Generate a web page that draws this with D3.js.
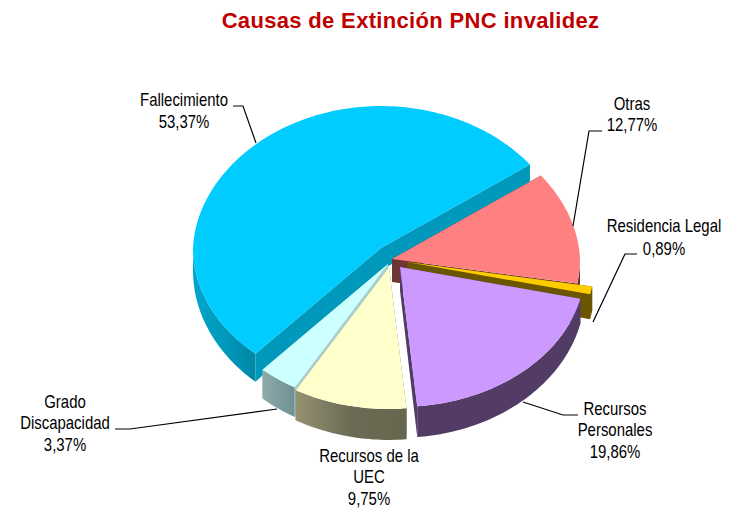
<!DOCTYPE html>
<html>

<head>
	<meta charset="utf-8">
	<script src="https://cdn.jsdelivr.net/npm/d3@7"></script>
	<style>
		html, body { margin: 0; padding: 0; background: #fff; }
		svg { display: block; }
		text { font-family: "Liberation Sans", Arial, sans-serif; }
		.label { font-size: 18px; fill: #000; text-anchor: middle; }
		.title { font-size: 22px; font-weight: bold; fill: #c00000; text-anchor: middle; letter-spacing: 0.33px; }
		.leader { fill: none; stroke: #000; stroke-width: 1.2; }
	</style>
</head>

<body>
	<svg></svg>
	<script>
		// Values, clockwise from the Fallecimiento/Otras cut
		var categories = ["Otras", "Residencia Legal", "Recursos Personales", "Recursos de la UEC", "Grado Discapacidad", "Fallecimiento"];
		var values = [12.77, 0.89, 19.86, 9.75, 3.37, 53.37];
		var valueLabels = ["12,77%", "0,89%", "19,86%", "9,75%", "3,37%", "53,37%"];
		var titleText = "Causas de Extinción PNC invalidez";

		// Style and layout, same order as categories
		var topColors = ["#ff8080", "#ffcc00", "#cc99ff", "#ffffcc", "#ccffff", "#00ccff"];
		var faceColors = ["#6f3535", "#6b5500", "#523c66", "#6b6b55", "#a8d0d0", "#0099bb"];
		var wallColors = [["#6f3535", "#6f3535", "#6f3535"], ["#6b5500", "#6b5500", "#6b5500"], ["#523c66", "#523c66", "#523c66"], ["#959270", "#6b6b55", "#67674f"], ["#8eabab", "#7f9d9e", "#6f9092"], ["#00a5ca", "#0099bb", "#0087a6"]];
		var shifts = [[7, 7], [22, 10], [15, 15], [4, 15], [3, 12], [-4, -4]];
		var radiusScale = [1, 1, 0.985, 1, 1, 1];
		var drawOrder = [5, 0, 1, 4, 3, 2];
		var labelLines = [["Otras"], ["Residencia Legal"], ["Recursos", "Personales"], ["Recursos de la", "UEC"], ["Grado", "Discapacidad"], ["Fallecimiento"]];
		var labelPos = [[632, 110.5, 20.5], [664, 232.5, 22.5], [615, 415, 21.5], [369, 462, 21.5], [65, 408, 21.5], [184, 106, 22]];
		var leaders = [
			[[602, 131], [589, 131], [573, 226]],
			[[637, 254], [625, 254], [593, 322]],
			[[578, 415], [563, 415], [523, 402]],
			null,
			[[115, 429], [130, 429], [277, 409]],
			[[233, 106], [243, 106], [256, 143]]
		];

		var width = 731;
		var height = 508;
		var cx = 385, cy = 252, rx = 188, ry = 142;

		var svg = d3.select("svg")
			.attr("width", width)
			.attr("height", height);
		var defs = svg.append("defs");

		// tilted pie: unit circle to screen
		var xScale = d3.scaleLinear().domain([-1, 1]).range([cx - rx, cx + rx]);
		var yScale = d3.scaleLinear().domain([1, -1]).range([cy - ry, cy + ry]);

		// the side gets a bit taller towards the viewer
		var depth = y => 18 + (y - 165) * 0.053;
		// and the far half is a bit narrower
		var narrow = y => 1 - 0.00025 * Math.max(0, cy - y);

		var pie = d3.pie()
			.sort(null)
			.startAngle(54 * Math.PI / 180)
			.endAngle(414 * Math.PI / 180);
		var arcs = pie(values);

		var outline = d3.line();

		function rim(a0, a1, shift, k) {
			var n = Math.max(2, Math.ceil((a1 - a0) / 0.02));
			return d3.range(n + 1).map(i => {
				var a = a0 + (a1 - a0) * i / n;
				var y = yScale(k * Math.cos(a));
				return [cx + (xScale(k * Math.sin(a)) - cx) * narrow(y) + shift[0], y + shift[1]];
			});
		}
		var drop = p => [p[0], p[1] + depth(p[1])];

		// gradients for the outer walls
		wallColors.forEach((c, i) => {
			var g = defs.append("linearGradient").attr("id", "wall" + i);
			c.forEach((color, j) => {
				g.append("stop").attr("offset", (j * 50) + "%").attr("stop-color", color);
			});
		});

		var pieGroup = svg.append("g").attr("class", "pie");

		drawOrder.forEach(i => {
			var d = arcs[i];
			var shift = shifts[i];
			var k = radiusScale[i];
			var g = pieGroup.append("g").attr("class", "slice");
			var vertex = [cx + shift[0], cy + shift[1]];
			var points = rim(d.startAngle, d.endAngle, shift, k);

			// the two cut faces
			[points[0], points[points.length - 1]].forEach(p => {
				g.append("path")
					.attr("d", outline([vertex, p, drop(p), drop(vertex)]) + "Z")
					.attr("fill", faceColors[i]);
			});

			// outer wall, front half only
			var a0 = Math.max(d.startAngle, Math.PI / 2);
			var a1 = Math.min(d.endAngle, 3 * Math.PI / 2);
			if (a1 > a0) {
				var front = rim(a0, a1, shift, k);
				g.append("path")
					.attr("d", outline(front.concat(front.map(drop).reverse())) + "Z")
					.attr("fill", "url(#wall" + i + ")");
			}

			// top face
			g.append("path")
				.attr("d", outline([vertex].concat(points)) + "Z")
				.attr("fill", topColors[i]);
		});

		// leader lines
		svg.append("g").selectAll("path")
			.data(leaders.filter(l => l))
			.join("path")
			.attr("class", "leader")
			.attr("d", outline);

		// labels, squeezed sideways like the original
		categories.forEach((c, i) => {
			var lines = labelLines[i].concat([valueLabels[i]]);
			var pos = labelPos[i];
			var t = svg.append("text")
				.attr("class", "label")
				.attr("transform", "translate(" + pos[0] + ",0) scale(0.83,1)");
			lines.forEach((line, j) => {
				t.append("tspan")
					.attr("x", 0)
					.attr("y", pos[1] + j * pos[2])
					.text(line);
			});
		});

		svg.append("text")
			.attr("class", "title")
			.attr("x", 410.5)
			.attr("y", 28)
			.text(titleText);
	</script>
</body>

</html>
